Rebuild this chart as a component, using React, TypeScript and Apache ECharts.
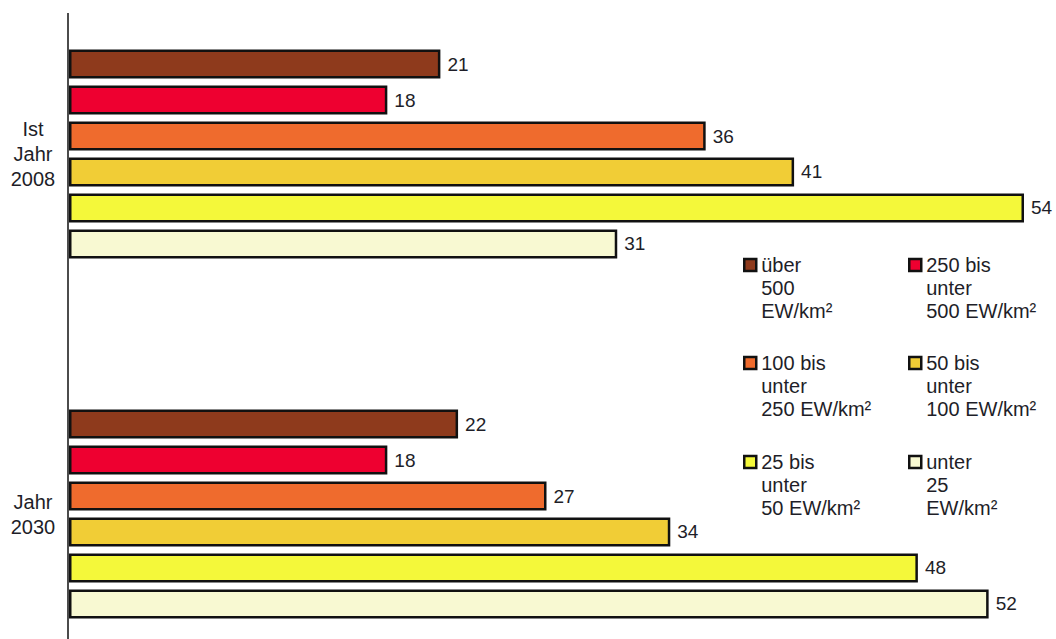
import React, { useEffect, useRef } from "react";
import * as echarts from "echarts";

const categories = ["Ist\nJahr\n2008", "Jahr\n2030"];
const seriesNames = [
  "über\n500\nEW/km²",
  "250 bis\nunter\n500 EW/km²",
  "100 bis\nunter\n250 EW/km²",
  "50 bis\nunter\n100 EW/km²",
  "25 bis\nunter\n50 EW/km²",
  "unter\n25\nEW/km²",
];
const ueber500 = [21, 22];
const von250bis500 = [18, 18];
const von100bis250 = [36, 27];
const von50bis100 = [41, 34];
const von25bis50 = [54, 48];
const unter25 = [31, 52];
const seriesValues = [ueber500, von250bis500, von100bis250, von50bis100, von25bis50, unter25];
const colors = ["#8e3a1c", "#ee0030", "#ef6b2d", "#f1cd36", "#f4f83a", "#f8f9d2"];

const FONT = "'Liberation Sans', Arial, sans-serif";
const legendCols = [743, 908];
const legendRows = [265, 363, 462];

export default function App() {
  const ref = useRef<HTMLDivElement>(null);
  useEffect(() => {
    if (!ref.current) return;
    const chart = echarts.init(ref.current, null, { renderer: "svg" });
    const legends = seriesNames.map((name, i) => {
      const col = i % 2;
      const row = Math.floor(i / 2);
      return {
        data: [name],
        left: legendCols[col],
        top: legendRows[row] - 57.5,
        padding: 0,
        itemWidth: 12,
        itemHeight: 12,
        icon: "rect",
        selectedMode: false,
        formatter: (n: string) => "\n\n" + n,
        itemStyle: { borderColor: "#111", borderWidth: 2.5 },
        textStyle: {
          fontFamily: FONT,
          fontSize: 20,
          lineHeight: 23,
          color: "#1e1e28",
        },
      };
    });
    chart.setOption({
      animation: false,
      backgroundColor: "#ffffff",
      grid: { left: 69, top: -26, height: 720, width: 955, outerBoundsMode: "none" },
      xAxis: {
        type: "value",
        min: 0,
        max: 54,
        show: false,
      },
      yAxis: {
        type: "category",
        data: categories,
        inverse: true,
        axisLine: { show: false },
        axisTick: { show: false },
        splitLine: { show: false },
        axisLabel: {
          align: "center",
          margin: 36,
          fontFamily: FONT,
          fontSize: 20,
          lineHeight: 25,
          color: "#1e1e28",
        },
      },
      legend: legends,
      graphic: [
        {
          type: "line",
          shape: { x1: 68, y1: 13, x2: 68, y2: 639 },
          style: { stroke: "#111", lineWidth: 1.5 },
        },
      ],
      series: seriesValues.map((vals, i) => ({
        type: "bar",
        name: seriesNames[i],
        data: vals,
        barWidth: 29,
        barGap: "24%",
        itemStyle: { color: colors[i], borderColor: "#111", borderWidth: 2.5 },
        label: {
          show: true,
          position: "right",
          distance: 7,
          fontFamily: FONT,
          fontSize: 19,
          color: "#1e1e28",
        },
      })),
    });
    return () => chart.dispose();
  }, []);
  return (
    <div
      ref={ref}
      style={{ position: "fixed", left: 0, top: 0, width: 1056, height: 639 }}
    />
  );
}
